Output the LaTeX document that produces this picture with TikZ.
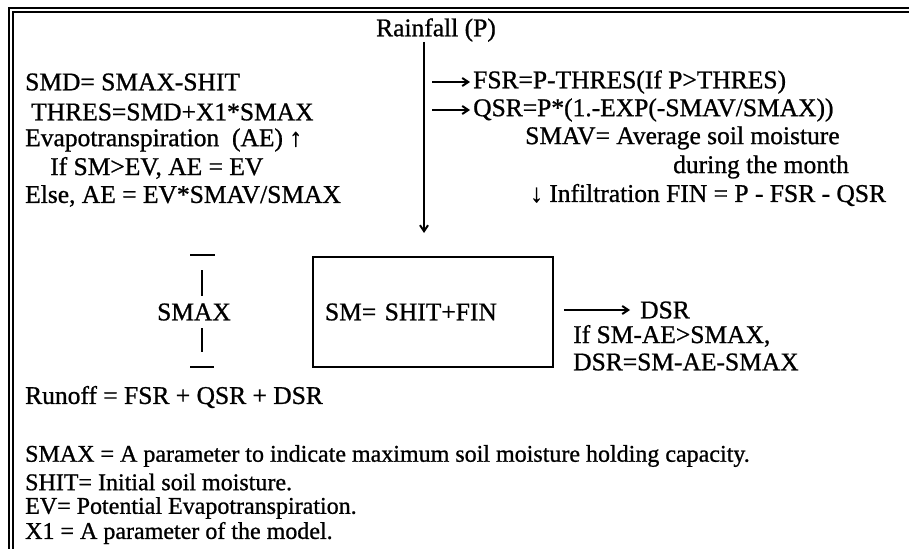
\documentclass[tikz,border=0pt]{standalone}
\usepackage{fontspec}
\setmainfont{Liberation Serif}[FakeBold=0.9]
\usetikzlibrary{arrows.meta}

\tikzset{
  txt/.style={anchor=west, inner sep=0pt, font=\fontsize{25.5}{28}\selectfont},
  note/.style={anchor=west, inner sep=0pt, font=\fontsize{24}{26}\selectfont},
  flow/.style={-{Straight Barb[length=6pt,width=8pt]}, line width=2pt},
  bar/.style={line width=2pt},
  frame/.style={double, double distance=2.5pt, line width=2pt},
  smbox/.style={draw, line width=1.6pt, minimum width=240pt, minimum height=110pt,
    text width=216pt, inner xsep=12pt, align=left, font=\fontsize{25.5}{28}\selectfont}
}

\begin{document}
\begin{tikzpicture}[x=1pt, y=-1pt]
\useasboundingbox (0,0) rectangle (909,549);
% frame
\draw[frame] (909,10) -- (11,10) -- (11,549);

% rainfall and its branches
\node[txt, anchor=center] (rain) at (436,30) {Rainfall (P)};
\coordinate (drop) at (424,233);
\coordinate (rail) at (432,0);
\draw[flow] (rain.south -| drop) -- (drop);

% left column
\node[txt] (smd) at (25,82) {SMD= SMAX-SHIT};
\node[txt] (thres) at (31,112) {THRES=SMD+X1*SMAX};
\node[txt] (evap) at (25,140) {Evapotranspiration\ \ (AE) ↑};
\node[txt] (ifsm) at (50,168) {If SM>EV, AE = EV};
\node[txt] (else) at (25,196) {Else, AE = EV*SMAV/SMAX};

% right column
\node[txt] (fsr) at (473,82) {FSR=P-THRES(If P>THRES)};
\node[txt] (qsr) at (473,110) {QSR=P*(1.-EXP(-SMAV/SMAX))};
\node[txt] (smav) at (525,138) {SMAV= Average soil moisture};
\node[txt] (month) at (673,167) {during the month};
\node[txt] (infil) at (530,195) {↓ Infiltration FIN = P - FSR - QSR};
\draw[flow] (fsr.west -| rail) -- ([xshift=-3pt]fsr.west);
\draw[flow] (qsr.west -| rail) -- ([xshift=-3pt]qsr.west);

% soil moisture store
\node[txt, anchor=center] (smax) at (194,312) {SMAX};
\draw[bar] (190,255) -- (215,255);
\draw[bar] (202,270) -- (202,296);
\draw[bar] (202,328) -- (202,352);
\draw[bar] (190,367) -- (214,367);
\node[smbox] (sm) at (433,312) {SM= SHIT+FIN};

% direct runoff
\node[txt] (dsr) at (640,310) {DSR};
\node[txt] (ifdsr) at (573,336) {If SM-AE>SMAX,};
\node[txt] (dsreq) at (573,362) {DSR=SM-AE-SMAX};
\draw[flow] ([xshift=10pt]sm.east |- dsr.west) -- ([xshift=-10pt]dsr.west);

% runoff and definitions
\node[txt] (runoff) at (25,397) {Runoff = FSR + QSR + DSR};
\node[note] (defsmax) at (25,456) {SMAX = A parameter to indicate maximum soil moisture holding capacity.};
\node[note] (defshit) at (25,482) {SHIT= Initial soil moisture.};
\node[note] (defev) at (25,508) {EV= Potential Evapotranspiration.};
\node[note] (defx) at (25,533) {X1 = A parameter of the model.};
\end{tikzpicture}
\end{document}
